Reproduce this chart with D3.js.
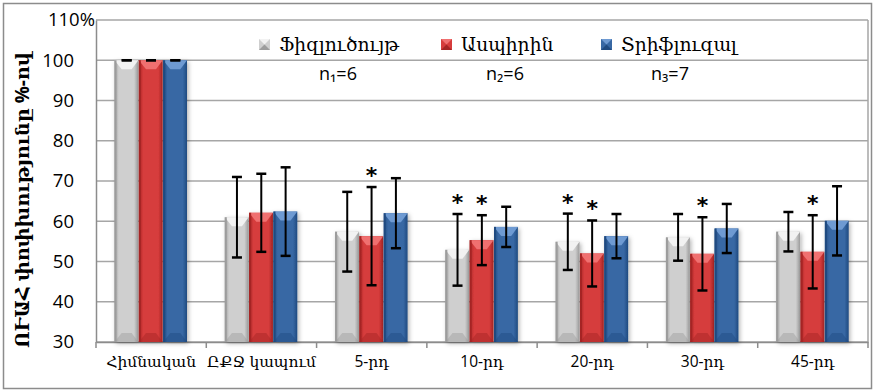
<!DOCTYPE html>
<html>
<head>
<meta charset="utf-8">
<script src="https://cdn.jsdelivr.net/npm/d3@7/dist/d3.min.js"></script>
<style>
  body { margin: 0; background: #fff; }
  text { font-family: "Open Sans", "DejaVu Sans", sans-serif; fill: #000; }
  .arm { font-family: "Open Sans", "DejaVu Serif", serif; }
</style>
</head>
<body>
<div id="chart"></div>
<script>
// chart values
const categories = ["Հիմնական", "ԸՔՋ կապում", "5-րդ", "10-րդ", "20-րդ", "30-րդ", "45-րդ"];
const seriesNames = ["Ֆիզլուծույթ", "Ասպիրին", "Տրիֆլուզալ"];
const groupSizes = ["n₁=6", "n₂=6", "n₃=7"];
const saline = [100, 61.0, 57.4, 52.9, 54.9, 56.0, 57.4];
const salineErr = [0, 10.0, 9.9, 8.9, 7.0, 5.8, 4.9];
const aspirin = [100, 62.1, 56.3, 55.3, 52.0, 51.9, 52.4];
const aspirinErr = [0, 9.7, 12.2, 6.2, 8.2, 9.1, 9.1];
const triflusal = [100, 62.4, 62.0, 58.6, 56.3, 58.2, 60.1];
const triflusalErr = [0, 11.0, 8.7, 5.0, 5.5, 6.1, 8.6];
const salineStars = [false, false, false, true, true, false, false];
const aspirinStars = [false, false, true, true, true, true, true];
const triflusalStars = [false, false, false, false, false, false, false];
const yTicks = [30, 40, 50, 60, 70, 80, 90, 100, 110];
const yTitle = "ՈՒԱՀ փոփխությունը %-ով";

const width = 875, height = 392;
const margin = {top: 20, right: 7, bottom: 50, left: 96};

const svg = d3.select("#chart").append("svg")
    .attr("width", width)
    .attr("height", height);

// colours per series: [dark, mid, light]
const palette = [
  ["#9c9c9c", "#cfcfcf", "#f2f2f2"],
  ["#a52424", "#d63c3c", "#f07070"],
  ["#1f4a80", "#3868a4", "#6e9ad2"]
];

const defs = svg.append("defs");
palette.forEach((c, i) => {
  const g = defs.append("linearGradient").attr("id", "grad" + i)
      .attr("x1", "0%").attr("x2", "100%").attr("y1", "0%").attr("y2", "0%");
  g.append("stop").attr("offset", "0%").attr("stop-color", c[0]);
  g.append("stop").attr("offset", "18%").attr("stop-color", c[1]);
  g.append("stop").attr("offset", "82%").attr("stop-color", c[1]);
  g.append("stop").attr("offset", "100%").attr("stop-color", c[0]);
});
const shadow = defs.append("filter").attr("id", "shadow")
    .attr("x", "-30%").attr("y", "-10%").attr("width", "160%").attr("height", "130%");
shadow.append("feDropShadow").attr("dx", 1.5).attr("dy", 1.5).attr("stdDeviation", 2)
    .attr("flood-color", "#000").attr("flood-opacity", 0.3);

// outer frame
svg.append("rect")
    .attr("x", 3.5).attr("y", 3.5)
    .attr("width", width - 7).attr("height", height - 7)
    .attr("fill", "#fff").attr("stroke", "#8c8c8c").attr("stroke-width", 1.5);

const innerW = width - margin.left - margin.right;
const innerH = height - margin.top - margin.bottom;

const x0 = d3.scaleBand().domain(categories).range([margin.left, margin.left + innerW]);
const x1 = d3.scaleBand().domain([0, 1, 2]).range([18.5, 91.5]);
const y = d3.scaleLinear().domain([30, 110]).range([margin.top + innerH, margin.top]);

// gridlines
svg.append("g").selectAll("line").data(yTicks).join("line")
    .attr("x1", margin.left).attr("x2", margin.left + innerW)
    .attr("y1", d => y(d)).attr("y2", d => y(d))
    .attr("stroke", "#a6a6a6").attr("stroke-width", 1.5);

// plot border right side
svg.append("line")
    .attr("x1", margin.left + innerW).attr("x2", margin.left + innerW)
    .attr("y1", y(110)).attr("y2", y(30))
    .attr("stroke", "#a6a6a6").attr("stroke-width", 1.5);

// y axis
const yAxis = svg.append("g")
    .attr("transform", `translate(${margin.left},0)`)
    .call(d3.axisLeft(y).tickValues(yTicks).tickSize(0).tickPadding(22)
        .tickFormat(d => d === 110 ? "110%" : d));
yAxis.select(".domain").attr("stroke", "#8c8c8c").attr("stroke-width", 1.5);
yAxis.selectAll("text").attr("font-size", 18.5);
yAxis.selectAll(".tick").filter(d => d === 110).select("text").attr("dx", 21).attr("dy", "0.3em");

// x axis
const xAxis = svg.append("g")
    .attr("transform", `translate(0,${y(30)})`)
    .call(d3.axisBottom(x0).tickSize(0).tickPadding(14));
xAxis.select(".domain").attr("stroke", "#8c8c8c").attr("stroke-width", 1.5);
xAxis.selectAll("text").attr("class", "arm").attr("font-size", 15.5);
svg.append("g").selectAll("line").data(categories.concat([null])).join("line")
    .attr("x1", (d, i) => margin.left + i * x0.bandwidth())
    .attr("x2", (d, i) => margin.left + i * x0.bandwidth())
    .attr("y1", y(30)).attr("y2", y(30) + 6)
    .attr("stroke", "#8c8c8c").attr("stroke-width", 1.5);

// y title
svg.append("text")
    .attr("class", "arm")
    .attr("transform", `translate(29,${(y(30) + y(100)) / 2 - 1}) rotate(-90)`)
    .attr("text-anchor", "middle")
    .attr("font-size", 19).attr("font-weight", "bold")
    .text(yTitle);

// bars
const series = [
  {name: seriesNames[0], values: saline, err: salineErr, stars: salineStars},
  {name: seriesNames[1], values: aspirin, err: aspirinErr, stars: aspirinStars},
  {name: seriesNames[2], values: triflusal, err: triflusalErr, stars: triflusalStars}
];

const rows = [];
series.forEach((s, si) => {
  categories.forEach((c, ci) => {
    rows.push({si, cat: c, v: s.values[ci], e: s.err[ci], star: s.stars[ci]});
  });
});

const bw = x1.bandwidth();
const bars = svg.append("g").selectAll("g").data(rows).join("g")
    .attr("transform", d => `translate(${x0(d.cat) + x1(d.si)},0)`);

bars.append("rect")
    .attr("x", 0).attr("y", d => y(d.v))
    .attr("width", bw - 0.5).attr("height", d => y(30) - y(d.v))
    .attr("fill", d => `url(#grad${d.si})`)
    .attr("filter", "url(#shadow)");

// top bevel
bars.append("path")
    .attr("d", d => {
      const t = y(d.v), h = 9;
      return `M0,${t} L${bw - 0.5},${t} L${bw / 2 + 5},${t + h} L${bw / 2 - 5},${t + h} Z`;
    })
    .attr("fill", d => palette[d.si][2]);
// bottom bevel
bars.append("path")
    .attr("d", d => {
      const b = y(30), h = 9;
      return `M0,${b} L${bw - 0.5},${b} L${bw / 2 + 5},${b - h} L${bw / 2 - 5},${b - h} Z`;
    })
    .attr("fill", d => palette[d.si][0]).attr("opacity", 0.45);
// side shading
bars.append("rect")
    .attr("x", 0).attr("y", d => y(d.v))
    .attr("width", 2).attr("height", d => y(30) - y(d.v))
    .attr("fill", d => palette[d.si][0]);

// error bars
const eb = svg.append("g");
rows.forEach(d => {
  const cx = x0(d.cat) + x1(d.si) + bw / 2;
  const top = y(d.v + d.e), bot = y(d.v - d.e);
  eb.append("line").attr("x1", cx).attr("x2", cx).attr("y1", top).attr("y2", bot)
      .attr("stroke", "#000").attr("stroke-width", 2);
  [top, bot].forEach(yy => {
    eb.append("line").attr("x1", cx - 5).attr("x2", cx + 5).attr("y1", yy).attr("y2", yy)
        .attr("stroke", "#000").attr("stroke-width", 2.5);
  });
});

// significance stars
svg.append("g").selectAll("text").data(rows.filter(d => d.star)).join("text")
    .attr("x", d => x0(d.cat) + x1(d.si) + bw / 2)
    .attr("y", d => y(d.v + d.e) - 4)
    .attr("text-anchor", "middle")
    .attr("font-size", 22).attr("font-weight", "bold")
    .style("font-family", "'DejaVu Sans', sans-serif")
    .text("*");

// legend
const legendX = [259, 441, 601];
const legend = svg.append("g");
seriesNames.forEach((name, i) => {
  const g = legend.append("g").attr("transform", `translate(${legendX[i]},39)`);
  g.append("rect").attr("width", 11).attr("height", 11).attr("fill", palette[i][1]);
  g.append("path").attr("d", "M0,0 L11,0 L5.5,5.5 Z").attr("fill", palette[i][2]);
  g.append("path").attr("d", "M0,11 L11,11 L5.5,5.5 Z").attr("fill", palette[i][0]);
  g.append("text").attr("class", "arm").attr("x", 20).attr("y", 12).attr("font-size", 18.7).text(name);
});

// group sizes
const nX = [338, 505, 670];
groupSizes.forEach((t, i) => {
  svg.append("text").attr("x", nX[i]).attr("y", 80)
      .attr("text-anchor", "middle").attr("font-size", 18)
      .text(t);
});
</script>
</body>
</html>
